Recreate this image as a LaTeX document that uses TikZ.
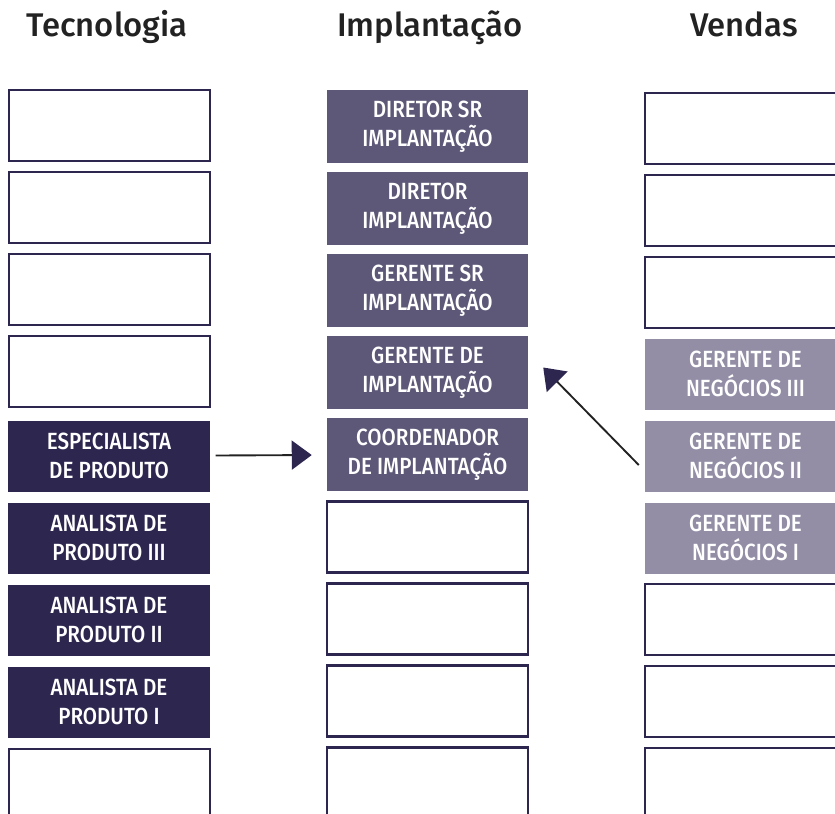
\documentclass[tikz,border=0pt]{standalone}
\usepackage{fontspec}
\setmainfont{Fira Sans}[UprightFont={* Medium}]
\usetikzlibrary{arrows.meta}
\definecolor{navy}{HTML}{2D2750}
\definecolor{slate}{HTML}{5D5878}
\definecolor{lilac}{HTML}{938EA6}
\definecolor{ink}{HTML}{222222}
\begin{document}
\begin{tikzpicture}[x=0.03cm, y=-0.03cm]
  \clip (0, 0) rectangle (835, 814);  % Bildausschnitt
  \tikzstyle{box}=[rectangle, minimum width=6.03cm, minimum height=2.13cm, inner sep=0pt, align=center, text=white, font=\addfontfeature{FakeStretch=0.88}\fontsize{20}{25}\selectfont]
  \tikzstyle{empty}=[box, draw=navy, line width=2.4pt, fill=white]
  \tikzstyle{tech}=[box, fill=navy]
  \tikzstyle{impl}=[box, fill=slate, minimum height=2.19cm]
  \tikzstyle{sales}=[box, fill=lilac]
  \tikzstyle{title}=[text=ink, font=\fontsize{28}{30}\selectfont, anchor=base]
  \tikzstyle{arrow}=[draw=ink, line width=1.6pt, -{Triangle[length=0.6cm, width=0.87cm, color=navy]}]

  \node[title] (tec)  at (107, 37) {Tecnologia};
  \node[title] (imp)  at (430, 37) {Implantação};
  \node[title] (ven)  at (744, 37) {Vendas};

  \node[empty] (t1) at (109.5, 125.5) {};
  \node[empty] (t2) at (109.5, 207.5) {};
  \node[empty] (t3) at (109.5, 289.5) {};
  \node[empty] (t4) at (109.5, 371.5) {};
  \node[tech]  (t5) at (109, 456)  {ESPECIALISTA\\DE PRODUTO};
  \node[tech]  (t6) at (109, 538)  {ANALISTA DE\\PRODUTO III};
  \node[tech]  (t7) at (109, 620)  {ANALISTA DE\\PRODUTO II};
  \node[tech]  (t8) at (109, 702)  {ANALISTA DE\\PRODUTO I};
  \node[empty] (t9) at (109.5, 784.5) {};

  \node[impl]  (i1) at (427.5, 126.5) {DIRETOR SR\\IMPLANTAÇÃO};
  \node[impl]  (i2) at (427.5, 208.5) {DIRETOR\\IMPLANTAÇÃO};
  \node[impl]  (i3) at (427.5, 290.5) {GERENTE SR\\IMPLANTAÇÃO};
  \node[impl]  (i4) at (427.5, 372.5) {GERENTE DE\\IMPLANTAÇÃO};
  \node[impl]  (i5) at (427.5, 454.5) {COORDENADOR\\DE IMPLANTAÇÃO};
  \node[empty] (i6) at (427.5, 537)   {};
  \node[empty] (i7) at (427.5, 619)   {};
  \node[empty] (i8) at (427.5, 701)   {};
  \node[empty] (i9) at (427.5, 783)   {};

  \node[empty] (v1) at (745.5, 128.5) {};
  \node[empty] (v2) at (745.5, 210.5) {};
  \node[empty] (v3) at (745.5, 292.5) {};
  \node[sales] (v4) at (745.5, 374)   {GERENTE DE\\NEGÓCIOS III};
  \node[sales] (v5) at (745.5, 456)   {GERENTE DE\\NEGÓCIOS II};
  \node[sales] (v6) at (745.5, 538)   {GERENTE DE\\NEGÓCIOS I};
  \node[empty] (v7) at (745.5, 619.5) {};
  \node[empty] (v8) at (745.5, 701.5) {};
  \node[empty] (v9) at (745.5, 783.5) {};

  \path[arrow, shorten <=0.18cm, shorten >=0.45cm] (t5) edge (i5);
  \draw[arrow] ([shift={(-6, 9)}]v5.west) -- ([shift={(15, -5)}]i4.east);
\end{tikzpicture}
\end{document}
